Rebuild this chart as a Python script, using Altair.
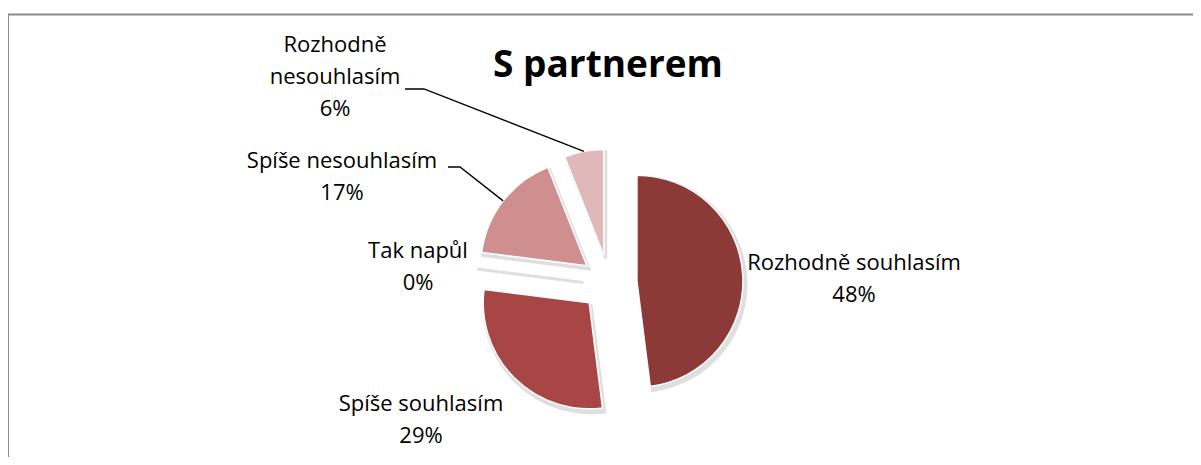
import math
import altair as alt
import pandas as pd

# ---------------- data ----------------
categories = ["Rozhodně souhlasím", "Spíše souhlasím", "Tak napůl",
              "Spíše nesouhlasím", "Rozhodně nesouhlasím"]
percents = [48, 29, 0, 17, 6]
label_names = ["Rozhodně souhlasím", "Spíše souhlasím", "Tak napůl",
               "Spíše nesouhlasím", "Rozhodně\nnesouhlasím"]
title_text = "S partnerem"

# ---------------- styles / layout ----------------
colors = ["#8B3A38", "#A84645", "#D6D6D6", "#CF8F8F", "#E1B8B9"]
W, H = 1185, 449
CX, CY = 601, 275          # pie centre (plot coords)
R = 106                    # pie radius
EXPLODE = 28               # explosion distance
FONT = "Open Sans"
# label anchor (centre x, first baseline y) in plot coords
label_x = [846, 413, 410, 334, 327]
label_y = [262, 403, 250, 160, 44]
# leader start points (for labels with leader lines)
leader_start = {3: [(440, 159), (452, 159)], 4: [(397, 81), (416, 81)]}

# ---------------- geometry from values ----------------
total = sum(percents)
rows, cum = [], 0
for i, (cat, p) in enumerate(zip(categories, percents)):
    start = cum / total * 2 * math.pi
    cum += p
    end = cum / total * 2 * math.pi
    mid = (start + end) / 2
    px = CX + EXPLODE * math.sin(mid)
    py = CY - EXPLODE * math.cos(mid)
    rows.append(dict(cat=cat, pct=p, start=start, end=end, px=px, py=py,
                     ox=px + R * math.sin(mid), oy=py - R * math.cos(mid)))
slices = pd.DataFrame(rows)

labels = pd.DataFrame({
    "txt": [f"{n}\n{p}%" for n, p in zip(label_names, percents)],
    "lx": label_x, "ly": label_y,
})

lrows = []
for idx, pts in leader_start.items():
    allpts = pts + [(rows[idx]["ox"], rows[idx]["oy"])]
    for o, (x, y) in enumerate(allpts):
        lrows.append(dict(g=idx, o=o, x=x, y=y))
leaders = pd.DataFrame(lrows)

enc = dict(
    theta=alt.Theta("start:Q", scale=None, stack=None),
    theta2="end:Q",
    x=alt.X("px:Q", scale=None, axis=None),
    y=alt.Y("py:Q", scale=None, axis=None),
)

base = alt.Chart(slices)
shadow = base.mark_arc(radius=R + 1, fill="#909090", stroke="#909090",
                       strokeWidth=3, opacity=0.28, xOffset=2, yOffset=3).encode(**enc)
pie = base.mark_arc(radius=R, stroke="white", strokeWidth=1.5).encode(
    color=alt.Color("cat:N", scale=alt.Scale(domain=categories, range=colors), legend=None),
    **enc,
)

text = alt.Chart(labels).mark_text(
    font=FONT, fontSize=22, lineBreak="\n", lineHeight=32,
    align="center", baseline="alphabetic", color="black",
).encode(
    x=alt.X("lx:Q", scale=None, axis=None),
    y=alt.Y("ly:Q", scale=None, axis=None),
    text="txt:N",
)

lines = alt.Chart(leaders).mark_line(color="black", strokeWidth=1.3).encode(
    x=alt.X("x:Q", scale=None, axis=None),
    y=alt.Y("y:Q", scale=None, axis=None),
    detail="g:N",
    order="o:Q",
)

one = alt.Chart(pd.DataFrame({"t": [title_text]}))
title = one.mark_text(font=FONT, fontSize=37, fontWeight="bold",
                      align="center", baseline="alphabetic", color="black").encode(
    x=alt.value(600), y=alt.value(69), text="t:N")
frame_top = one.mark_rule(color="#8C8C8C", strokeWidth=2).encode(
    x=alt.value(0), x2=alt.value(W), y=alt.value(6.5))
frame_left = one.mark_rule(color="#8C8C8C", strokeWidth=2).encode(
    x=alt.value(0), y=alt.value(6.5), y2=alt.value(H))

chart = alt.layer(frame_top, frame_left, shadow, pie, lines, text, title).properties(
    width=W, height=H, padding=0, autosize="none",
    background="white",
).configure_view(stroke=None)

chart.save("out.html", embed_options={"renderer": "svg", "actions": False})
